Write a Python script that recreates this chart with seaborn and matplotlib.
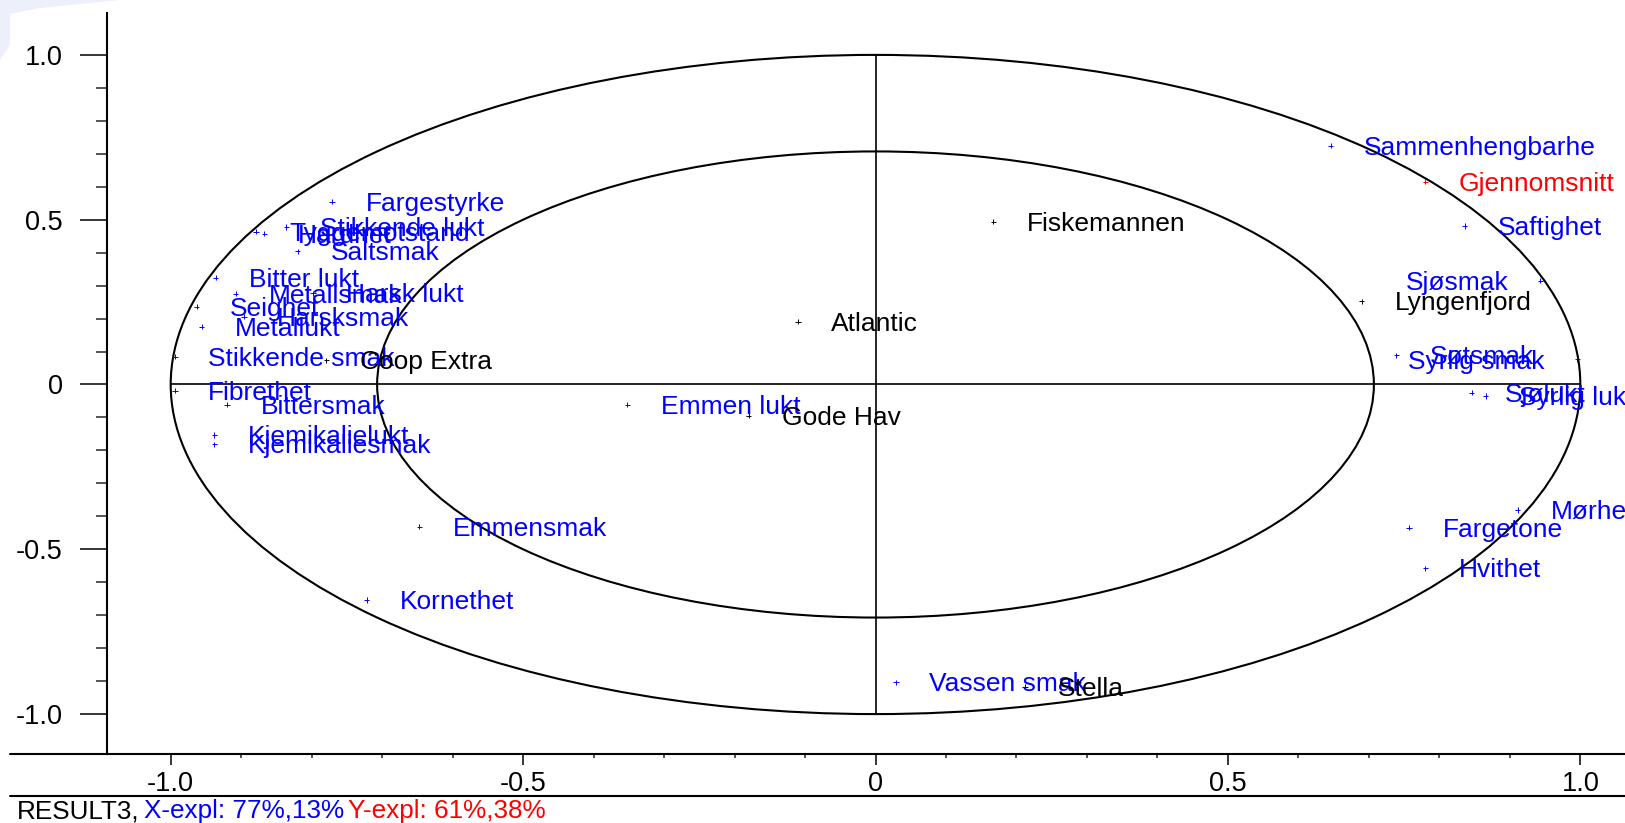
import numpy as np
import pandas as pd
import matplotlib
matplotlib.use('Agg')
import matplotlib.pyplot as plt
import seaborn as sns
from matplotlib.patches import Ellipse, Polygon
from matplotlib.lines import Line2D
from matplotlib.ticker import FixedLocator

# Variabler (blå)
var_names = ['Sammenhengbarhe', 'Saftighet', 'Sjøsmak', 'Søtsmak', 'Syrlig smak',
             'Sjølukt', 'Syrlig lukt', 'Mørhet', 'Fargetone', 'Hvithet',
             'Vassen smak', 'Kornethet', 'Emmensmak', 'Emmen lukt', 'Kjemikaliesmak',
             'Kjemikalielukt', 'Bittersmak', 'Fibrethet', 'Stikkende smak', 'Metallukt',
             'Harsksmak', 'Seighet', 'Harsk lukt', 'Metallsmak', 'Bitter lukt',
             'Saltsmak', 'Stikkende lukt', 'Hardhet', 'Tyggemotstand', 'Fargestyrke']
var_x = [0.646, 0.836, 0.943, 0.739, 0.996, 0.846, 0.866, 0.911, 0.757, 0.780,
         0.029, -0.722, -0.647, -0.352, -0.938, -0.938, -0.920, -0.994, -0.994, -0.956,
         -0.896, -0.963, -0.798, -0.908, -0.936, -0.820, -0.836, -0.867, -0.879, -0.771]
var_y = [0.724, 0.481, 0.315, 0.089, 0.076, -0.025, -0.035, -0.381, -0.434, -0.558,
         -0.903, -0.654, -0.431, -0.061, -0.181, -0.153, -0.061, -0.019, 0.084, 0.175,
         0.206, 0.236, 0.277, 0.275, 0.324, 0.404, 0.478, 0.458, 0.463, 0.554]

# Objekter (svart)
obj_names = ['Fiskemannen', 'Atlantic', 'Lyngenfjord', 'Coop Extra', 'Gode Hav', 'Stella']
obj_x = [0.167, -0.110, 0.690, -0.779, -0.180, 0.212]
obj_y = [0.494, 0.191, 0.253, 0.074, -0.095, -0.917]

# Gjennomsnitt (rød)
mean_names = ['Gjennomsnitt']
mean_x = [0.780]
mean_y = [0.615]

ticks = [-1.0, -0.5, 0.0, 0.5, 1.0]
tick_labels = ['-1.0', '-0.5', '0', '0.5', '1.0']
minor_ticks = [v / 10 for v in range(-10, 11)]

df = pd.concat([
    pd.DataFrame({'navn': var_names, 'x': var_x, 'y': var_y, 'type': 'var'}),
    pd.DataFrame({'navn': obj_names, 'x': obj_x, 'y': obj_y, 'type': 'obj'}),
    pd.DataFrame({'navn': mean_names, 'x': mean_x, 'y': mean_y, 'type': 'mean'}),
], ignore_index=True)
farger = {'var': '#0000ff', 'obj': '#000000', 'mean': '#ff0000'}

# etiketter som er flyttet til venstre i originalen (punkter)
label_offset = {'Sjøsmak': -97, 'Syrlig smak': -122}

sns.set_theme(style='white')
plt.rcParams['font.family'] = ['Liberation Sans', 'DejaVu Sans']

W, H = 1625, 823
fig = plt.figure(figsize=(W / 100, H / 100), dpi=100)
fig.patch.set_facecolor('white')

# svak blå flekk øverst til venstre
fig.add_artist(Polygon([[0, 1], [120 / W, 1], [40 / W, 1 - 8 / H], [10 / W, 1 - 14 / H],
                        [10 / W, 1 - 45 / H], [0, 1 - 60 / H]],
                       closed=True, transform=fig.transFigure, color='#edf0fa', lw=0))

ax = fig.add_axes([106.7 / W, 1 - 754 / H, 1 - 106.7 / W, (754 - 13.3) / H])
ax.set_xlim(-1.0908, 1.0634)
ax.set_ylim(-1.1211, 1.1262)

ax.add_patch(Ellipse((0, 0), 2, 2, fill=False, color='black', lw=1.5))
ax.add_patch(Ellipse((0, 0), 2 * np.sqrt(0.5), 2 * np.sqrt(0.5), fill=False, color='black', lw=1.5))
ax.plot([-1, 1], [0, 0], color='black', lw=1.2)
ax.plot([0, 0], [-1, 1], color='black', lw=1.2)

sns.scatterplot(data=df, x='x', y='y', hue='type', palette=farger, marker='+',
                s=14, linewidth=0.7, legend=False, ax=ax, zorder=3)

for _, r in df.iterrows():
    ax.annotate(r['navn'], (r['x'], r['y']), xytext=(label_offset.get(r['navn'], 24), -1.5),
                textcoords='offset points', ha='left', va='center',
                color=farger[r['type']], fontsize=19, zorder=4, annotation_clip=False)

for s in ['top', 'right']:
    ax.spines[s].set_visible(False)
for s in ['left', 'bottom']:
    ax.spines[s].set_color('black')
    ax.spines[s].set_linewidth(1.5)

ax.set_xticks(ticks)
ax.set_xticklabels(tick_labels)
ax.set_yticks(ticks)
ax.set_yticklabels(tick_labels)
ax.xaxis.set_minor_locator(FixedLocator(minor_ticks))
ax.yaxis.set_minor_locator(FixedLocator(minor_ticks))
ax.tick_params(axis='y', which='major', direction='out', length=19.5, width=1.1,
               left=True, labelsize=19.5, pad=12, colors='black')
ax.tick_params(axis='y', which='minor', direction='out', length=8, width=1.1, left=True)
ax.tick_params(axis='x', which='major', direction='out', length=8, width=1.1,
               bottom=True, labelsize=19.5, pad=4, colors='black')
ax.tick_params(axis='x', which='minor', direction='out', length=3, width=1.1, bottom=True)
ax.set_xlabel('')
ax.set_ylabel('')
ax.grid(False)

# forlengelse av x-aksen og strek under
fig.add_artist(Line2D([10 / W, 106.7 / W], [1 - 754 / H] * 2, color='black', lw=1.5,
                      transform=fig.transFigure))
fig.add_artist(Line2D([10 / W, 1], [1 - 796 / H] * 2, color='black', lw=1.5,
                      transform=fig.transFigure))

# bunntekst
renderer = fig.canvas.get_renderer()
x = 17 / W
for txt, c in [('RESULT3,', 'black'), ('X-expl: 77%,13%', '#0000ff'), ('Y-expl: 61%,38%', '#ff0000')]:
    t = fig.text(x, 1 - 811 / H, txt, color=c, fontsize=18.8, ha='left', va='center')
    bb = t.get_window_extent(renderer)
    x = (bb.x1 + 4) / W

fig.savefig('out.png', dpi=100)
